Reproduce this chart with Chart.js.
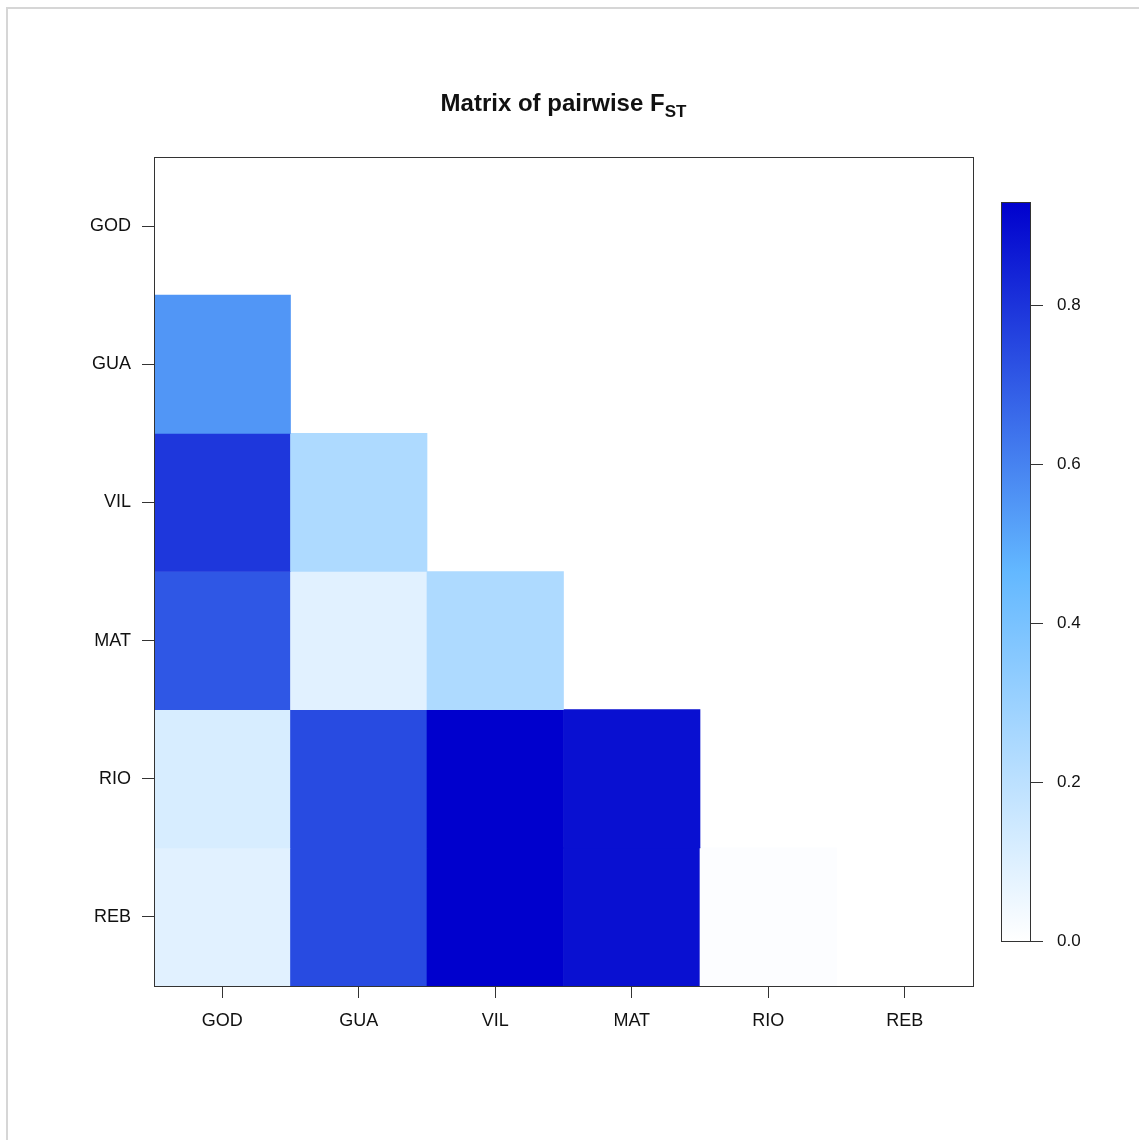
<!DOCTYPE html>
<html>
<head>
<meta charset="utf-8">
<script src="https://cdn.jsdelivr.net/npm/chart.js@4.4.1/dist/chart.umd.min.js"></script>
<style>
  body { margin: 0; background: #fff; overflow: hidden; font-family: "Liberation Sans", Arial, sans-serif; }
  #frame { position: absolute; left: 6px; top: 7px; width: 2000px; height: 2000px; border: 2px solid #d6d6d6; }
  #title { position: absolute; left: 154px; width: 819px; top: 89px; text-align: center;
           font-size: 24px; font-weight: bold; color: #111; }
  #title sub { font-size: 17px; vertical-align: -6px; line-height: 0; }
  #main { position: absolute; left: 0; top: 0; }
  #bar { position: absolute; left: 960px; top: 190px; }
</style>
</head>
<body>
<div id="frame"></div>
<canvas id="main" width="1139" height="1140"></canvas>
<canvas id="bar" width="170" height="770"></canvas>
<div id="title">Matrix of pairwise F<sub>ST</sub></div>

<script>
// populations (same order on both axes)
const pops = ['GOD', 'GUA', 'VIL', 'MAT', 'RIO', 'REB'];

// lower triangle of pairwise Fst, one array per row
const fstGOD = [];
const fstGUA = [0.55];
const fstVIL = [0.79, 0.24];
const fstMAT = [0.71, 0.09, 0.24];
const fstRIO = [0.12, 0.74, 0.93, 0.89];
const fstREB = [0.09, 0.74, 0.93, 0.89, 0.01];

const colorbarTicks = [0, 0.2, 0.4, 0.6, 0.8];

const rowsFst = [fstGOD, fstGUA, fstVIL, fstMAT, fstRIO, fstREB];
const maxFst = Math.max(...rowsFst.flat());

// white -> steelblue1 -> mediumblue
const stops = [[255, 255, 255], [99, 184, 255], [0, 0, 205]];
function fstColor(v) {
    let t = v / maxFst * 2;
    let i = t >= 1 ? 1 : 0;
    let f = t - i;
    let a = stops[i], b = stops[i + 1];
    let c = a.map((x, k) => Math.round(x + (b[k] - x) * f));
    return `rgb(${c[0]},${c[1]},${c[2]})`;
}

// one floating-bar dataset per row, cells spanning [row, row+1]
const datasets = rowsFst.map((vals, r) => ({
    label: pops[r],
    data: pops.map((p, c) => c < vals.length ? [r, r + 1] : null),
    backgroundColor: pops.map((p, c) => c < vals.length ? fstColor(vals[c]) : 'transparent'),
    borderWidth: 0,
    grouped: false,
    barPercentage: 1,
    categoryPercentage: 1
}));

const boxPlugin = {
    id: 'box',
    afterDraw(chart) {
        const a = chart.chartArea, ctx = chart.ctx;
        ctx.save();
        ctx.strokeStyle = '#333';
        ctx.lineWidth = 1;
        ctx.strokeRect(Math.round(a.left) + 0.5, Math.round(a.top) + 0.5,
            Math.round(a.right - a.left), Math.round(a.bottom - a.top));
        ctx.restore();
    }
};

const tickFont = { family: '"Liberation Sans", Arial, sans-serif', size: 18 };

new Chart(document.getElementById('main'), {
    type: 'bar',
    data: { labels: pops, datasets: datasets },
    options: {
        responsive: false,
        animation: false,
        layout: { padding: { top: 157, right: 166, left: 0, bottom: 0 } },
        plugins: { legend: { display: false }, tooltip: { enabled: false } },
        scales: {
            x: {
                grid: { offset: false, drawOnChartArea: false, tickLength: 12, color: '#333' },
                border: { display: false },
                ticks: { font: tickFont, color: '#111', padding: 12, maxRotation: 0 },
                afterFit: s => { s.height = 154; }
            },
            y: {
                type: 'linear',
                min: 0,
                max: pops.length,
                reverse: true,
                afterBuildTicks: s => { s.ticks = pops.map((p, i) => ({ value: i + 0.5 })); },
                grid: { drawOnChartArea: false, tickLength: 12, color: '#333' },
                border: { display: false },
                ticks: { font: tickFont, color: '#111', padding: 11, callback: (v, i) => pops[i] },
                afterFit: s => { s.width = 154; }
            }
        }
    },
    plugins: [boxPlugin]
});

// colour key
const gradientPlugin = {
    id: 'gradient',
    beforeDatasetsDraw(chart) {
        const a = chart.chartArea, ctx = chart.ctx;
        const g = ctx.createLinearGradient(0, a.bottom, 0, a.top);
        g.addColorStop(0, fstColor(0));
        g.addColorStop(0.5, fstColor(maxFst / 2));
        g.addColorStop(1, fstColor(maxFst));
        ctx.save();
        ctx.fillStyle = g;
        ctx.fillRect(a.left, a.top, a.right - a.left, a.bottom - a.top);
        ctx.restore();
    }
};

new Chart(document.getElementById('bar'), {
    type: 'bar',
    data: { labels: [''], datasets: [] },
    options: {
        responsive: false,
        animation: false,
        layout: { padding: { top: 12, bottom: 19, left: 41, right: 0 } },
        plugins: { legend: { display: false }, tooltip: { enabled: false } },
        scales: {
            x: { display: false },
            y: {
                position: 'right',
                min: 0,
                max: maxFst,
                afterBuildTicks: s => { s.ticks = colorbarTicks.map(v => ({ value: v })); },
                grid: { drawOnChartArea: false, tickLength: 13, color: '#333' },
                border: { display: false },
                ticks: {
                    font: { family: '"Liberation Sans", Arial, sans-serif', size: 17 },
                    color: '#111', padding: 14,
                    callback: v => v.toFixed(1)
                },
                afterFit: s => { s.width = 100; s.paddingTop = 0; s.paddingBottom = 0; }
            }
        }
    },
    plugins: [gradientPlugin, boxPlugin]
});
</script>
</body>
</html>
